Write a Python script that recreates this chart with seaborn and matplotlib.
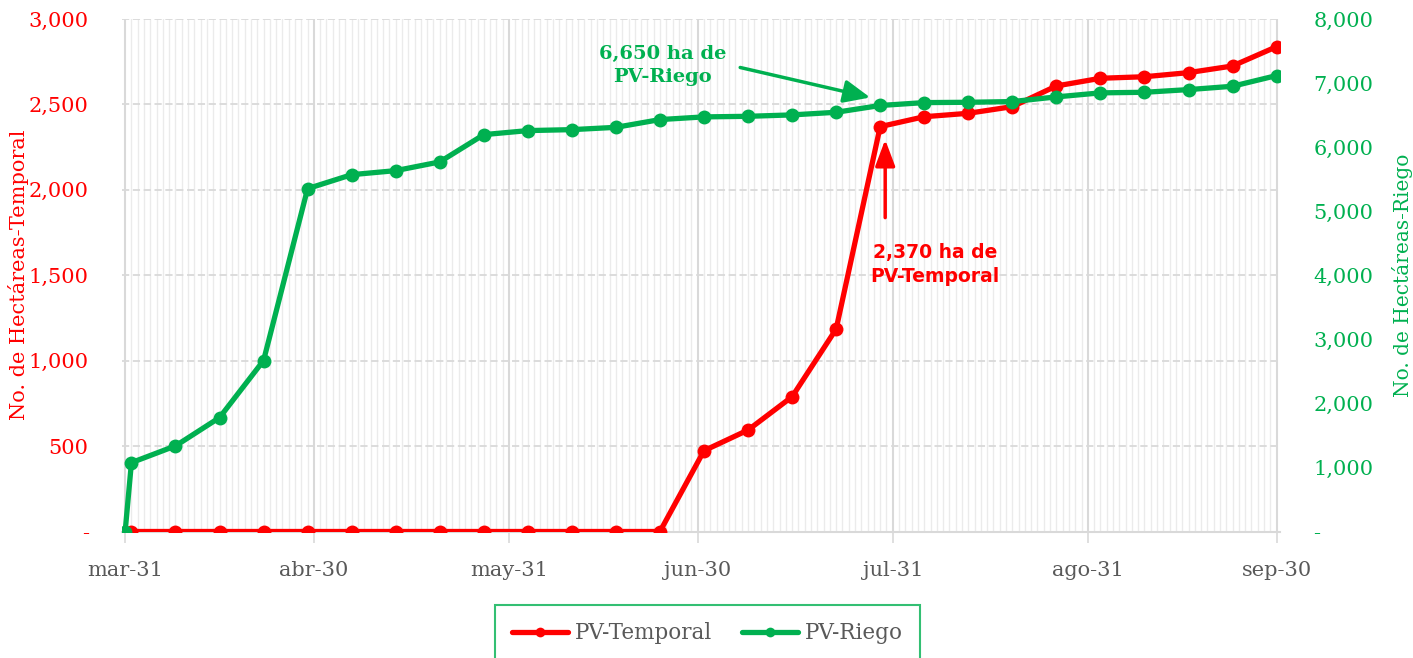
import matplotlib
matplotlib.use("Agg")
import matplotlib.pyplot as plt
import matplotlib.dates as mdates
import matplotlib.transforms as mtransforms
from matplotlib.lines import Line2D
import pandas as pd
import seaborn as sns

# ---------------- data ----------------
temporal_dates = ["2021-04-01", "2021-04-08", "2021-04-15", "2021-04-22", "2021-04-29",
                  "2021-05-06", "2021-05-13", "2021-05-20", "2021-05-27", "2021-06-03",
                  "2021-06-10", "2021-06-17", "2021-06-24", "2021-07-01", "2021-07-08",
                  "2021-07-15", "2021-07-22", "2021-07-29", "2021-08-05", "2021-08-12",
                  "2021-08-19", "2021-08-26", "2021-09-02", "2021-09-09", "2021-09-16",
                  "2021-09-23", "2021-09-30"]
temporal_values = [0, 0, 0, 0, 0, 0, 0, 0, 0, 0, 0, 0, 0,
                   473, 594, 789, 1185, 2370, 2428, 2448, 2487, 2608, 2653, 2662, 2686, 2725, 2838]

riego_dates = ["2021-03-31"] + temporal_dates
riego_values = [0, 1075, 1336, 1778, 2669, 5352, 5570, 5633, 5769, 6195, 6258, 6273, 6309, 6430,
                6472, 6481, 6503, 6544, 6650, 6695, 6700, 6711, 6784, 6847, 6856, 6898, 6950, 7117]

month_ticks = ["2021-03-31", "2021-04-30", "2021-05-31", "2021-06-30", "2021-07-31", "2021-08-31", "2021-09-30"]
month_labels = ["mar-31", "abr-30", "may-31", "jun-30", "jul-31", "ago-31", "sep-30"]

left_ticks = [0, 500, 1000, 1500, 2000, 2500, 3000]
left_labels = ["-", "500", "1,000", "1,500", "2,000", "2,500", "3,000"]
right_ticks = [0, 1000, 2000, 3000, 4000, 5000, 6000, 7000, 8000]
right_labels = ["-", "1,000", "2,000", "3,000", "4,000", "5,000", "6,000", "7,000", "8,000"]

annot_date = "2021-07-29"
annot_riego = 6650
annot_temporal = 2370

# ---------------- style ----------------
sns.set_theme(style="white")
plt.rcParams["font.family"] = ["DejaVu Serif"]

RED = "#FF0000"
GREEN = "#00B050"
GRAY = "#595959"
FS = 15

fig = plt.figure(figsize=(14.13, 6.58), dpi=100)
ax = fig.add_axes([122 / 1413, 1 - 531.5 / 658, (1280 - 122) / 1413, (531.5 - 19) / 658])
ax2 = ax.twinx()

df_t = pd.DataFrame({"fecha": pd.to_datetime(temporal_dates), "ha": temporal_values})
df_r = pd.DataFrame({"fecha": pd.to_datetime(riego_dates), "ha": riego_values})

sns.lineplot(data=df_t, x="fecha", y="ha", ax=ax, color=RED, linewidth=3.8,
             marker="o", markersize=10, markeredgewidth=0, legend=False, zorder=3)
sns.lineplot(data=df_r, x="fecha", y="ha", ax=ax2, color=GREEN, linewidth=3.8,
             marker="o", markersize=10, markeredgewidth=0, legend=False, zorder=3)

# x axis
x0 = pd.Timestamp("2021-03-31") - pd.Timedelta(hours=12)
x1 = pd.Timestamp("2021-09-30") + pd.Timedelta(hours=13)
ax.set_xlim(x0, x1)
ax.xaxis.set_major_locator(matplotlib.ticker.FixedLocator(mdates.date2num(pd.to_datetime(month_ticks))))
ax.xaxis.set_major_formatter(matplotlib.ticker.FixedFormatter(month_labels))
ax.xaxis.set_minor_locator(mdates.DayLocator())
ax.tick_params(axis="x", which="major", length=8, width=1.2, color="#D9D9D9",
               labelsize=FS, labelcolor=GRAY, pad=13, direction="out", bottom=True)
ax.tick_params(axis="x", which="minor", length=0)

# y axes
ax.set_ylim(0, 3000)
ax.set_yticks(left_ticks)
ax.set_yticklabels(left_labels)
ax.tick_params(axis="y", length=0, labelsize=FS, labelcolor=RED, pad=24)
ax2.set_ylim(0, 8000)
ax2.set_yticks(right_ticks)
ax2.set_yticklabels(right_labels)
ax2.tick_params(axis="y", length=0, labelsize=FS, labelcolor=GREEN, pad=24)

ax.set_xlabel("")
ax.set_ylabel("No. de Hectáreas-Temporal", color=RED, fontsize=FS)
ax2.set_ylabel("No. de Hectáreas-Riego", color=GREEN, fontsize=14.5, rotation=90)
ax.yaxis.set_label_coords((29 - 122) / 1158, 0.5)
ax2.yaxis.set_label_coords((1392 - 122) / 1158, 0.5)

# grid
ax.set_axisbelow(True)
ax.grid(which="minor", axis="x", color="#EBEBEB", linewidth=1.0)
ax.grid(which="major", axis="x", color="#D9D9D9", linewidth=1.5)
ax.grid(which="major", axis="y", color="#D9D9D9", linewidth=1.3, linestyle=(0, (4, 2)))
ax2.grid(False)

for a in (ax, ax2):
    for s in ("top", "left", "right"):
        a.spines[s].set_visible(False)
ax.spines["bottom"].set_color("#D9D9D9")
ax.spines["bottom"].set_linewidth(1.5)
ax2.spines["bottom"].set_visible(False)

# annotations
d_ann = mdates.date2num(pd.Timestamp(annot_date))
tip_g = mtransforms.offset_copy(ax2.transData, fig=fig, x=-10, y=8, units="dots")
ax2.annotate("", xy=(d_ann, annot_riego), xycoords=tip_g, xytext=(-130, 30), textcoords="offset pixels",
             arrowprops=dict(arrowstyle="-|>,head_length=0.8,head_width=0.35", color=GREEN, lw=2.5,
                             mutation_scale=20, shrinkA=0, shrinkB=0))
ax2.annotate("6,650 ha de\nPV-Riego", xy=(d_ann, annot_riego), xytext=(-218, 40), textcoords="offset pixels",
             ha="center", va="center", color=GREEN, fontsize=14, fontweight="bold", linespacing=1.35)

tip_r = mtransforms.offset_copy(ax.transData, fig=fig, x=5, y=-13, units="dots")
ax.annotate("", xy=(d_ann, annot_temporal), xycoords=tip_r, xytext=(0, -78), textcoords="offset pixels",
            arrowprops=dict(arrowstyle="-|>,head_length=0.8,head_width=0.3", color=RED, lw=2.5,
                            mutation_scale=20, shrinkA=0, shrinkB=0))
ax.annotate("2,370 ha de\nPV-Temporal", xy=(d_ann, annot_temporal), xytext=(55, -138), textcoords="offset pixels",
            ha="center", va="center", color=RED, fontsize=13.5, fontweight="bold", linespacing=1.35,
            family=["DejaVu Sans"])

# legend
handles = [Line2D([], [], color=RED, lw=3.8, marker="o", markersize=7, markeredgewidth=0),
           Line2D([], [], color=GREEN, lw=3.8, marker="o", markersize=7, markeredgewidth=0)]
leg = fig.legend(handles, ["PV-Temporal", "PV-Riego"], loc="upper center",
                 bbox_to_anchor=(707.5 / 1413, 1 - 605 / 658), ncol=2, frameon=True, fancybox=False,
                 fontsize=15.5, handlelength=2.6, handletextpad=0.3, columnspacing=1.4,
                 borderpad=0.8, borderaxespad=0)
leg.get_frame().set_edgecolor(GREEN)
leg.get_frame().set_linewidth(1.5)
for t in leg.get_texts():
    t.set_color(GRAY)

fig.savefig("out.png", dpi=100)
